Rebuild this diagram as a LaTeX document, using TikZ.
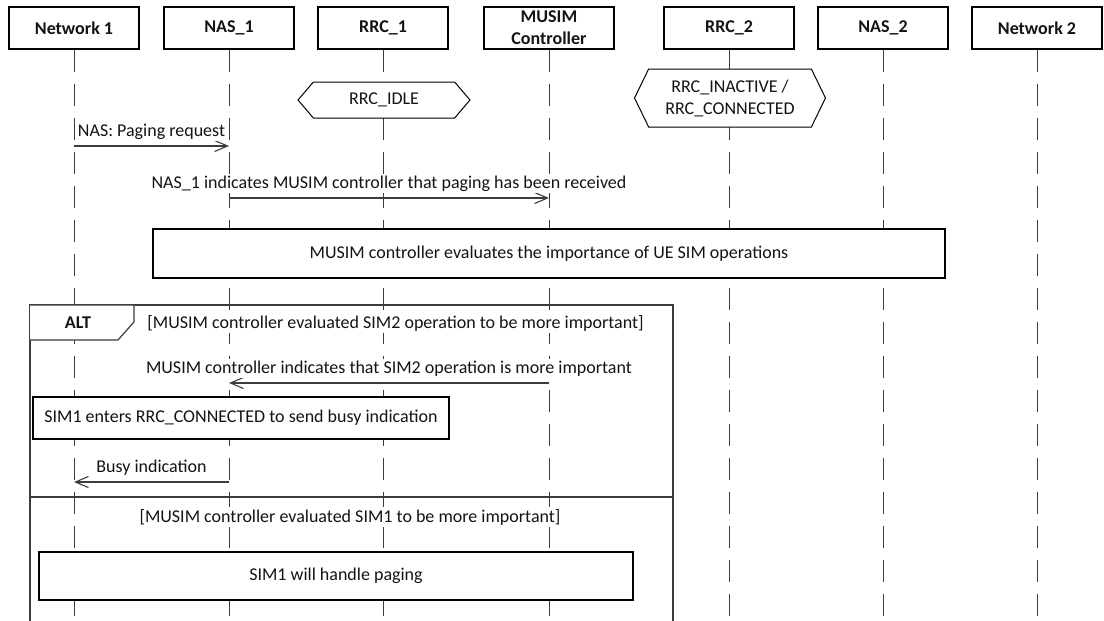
\documentclass[tikz,border=0pt]{standalone}
\usepackage{fontspec}
\setmainfont{Carlito}
\usetikzlibrary{
  arrows.meta,
  positioning,
  shapes.symbols
}
\definecolor{linegray}{RGB}{60,60,60}
\definecolor{textblack}{RGB}{20,20,20}
\newcommand{\diafont}{\fontsize{9}{11}\selectfont}
\tikzset{
  headbox/.style={draw,fill=white,line width=0.6pt,minimum width=65pt,minimum height=21pt,
    inner sep=0pt,font=\diafont\bfseries,align=center,text=textblack},
  lifeline/.style={draw=linegray,line width=0.5pt,dash pattern=on 11pt off 6pt},
  statebox/.style={signal,signal to=east and west,draw,fill=white,line width=0.5pt,
    inner sep=0pt,align=center,text=textblack},
  msg/.style={draw=linegray,line width=0.55pt,-{Straight Barb[length=6.5pt,width=5.5pt]}},
  msglabel/.style={fill=white,inner sep=1pt,above=2pt,text=textblack},
  actbox/.style={draw,fill=white,line width=0.6pt,inner sep=0pt,text=textblack},
  frameline/.style={draw=linegray,line width=0.6pt}
}

\begin{document}
\begin{tikzpicture}[x=0.5pt,y=-0.5pt,font=\diafont]
  \useasboundingbox (0,0) rectangle (1104,621);
  \coordinate (bot) at (0,621);
  % lifeline heads
  \node[headbox] (net1) at (74,28) {Network 1};
  \node[headbox] (nas1) at (229,28) {NAS\_1};
  \node[headbox] (rrc1) at (383,28) {RRC\_1};
  \node[headbox] (musim) at (549,28) {MUSIM\\Controller};
  \node[headbox] (rrc2) at (729,28) {RRC\_2};
  \node[headbox] (nas2) at (883,28) {NAS\_2};
  \node[headbox] (net2) at (1037,28) {Network 2};
  \foreach \n in {net1,nas1,rrc1,musim,rrc2,nas2,net2}
    \draw[lifeline] (\n.south) -- (\n.south |- bot);
  % states
  \node[statebox,minimum width=86pt,minimum height=18pt,signal pointer angle=99] (idle) at (384,100) {RRC\_IDLE};
  \node[statebox,minimum width=95.5pt,minimum height=29pt,signal pointer angle=128] (inact) at (730,98) {RRC\_INACTIVE /\\RRC\_CONNECTED};
  % paging
  \draw[msg] (net1 |- 0,146) -- node[msglabel] (m1) {NAS: Paging request} (nas1 |- 0,146);
  \draw[msg] (nas1 |- 0,198) -- node[msglabel] (m2) {NAS\_1 indicates MUSIM controller that paging has been received} (musim |- 0,198);
  \node[actbox,minimum width=396pt,minimum height=24.5pt] (eval) at (549,253.5) {MUSIM controller evaluates the importance of UE SIM operations};
  % alt fragment
  \draw[frameline] (30,621) |- (673,305) -- (673,621);
  \draw[frameline,fill=white] (30,305) -- (134,305) -- (134,322) -- (118,340) -- (30,340);
  \node[font=\diafont\bfseries,text=textblack] (alt) at (78,323) {ALT};
  \node[anchor=west,fill=white,inner sep=1pt,text=textblack] (g1) at (145,323) {[MUSIM controller evaluated SIM2 operation to be more important]};
  \draw[msg] (musim |- 0,383) -- node[msglabel] (m3) {MUSIM controller indicates that SIM2 operation is more important} (nas1 |- 0,383);
  \node[actbox,minimum width=208pt,minimum height=21pt] (busy) at (241,418) {SIM1 enters RRC\_CONNECTED to send busy indication};
  \draw[msg] (nas1 |- 0,482) -- node[msglabel] (m4) {Busy indication} (net1 |- 0,482);
  \draw[frameline] (30,497) -- (673,497);
  \node[fill=white,inner sep=1pt,text=textblack] (g2) at (350,517) {[MUSIM controller evaluated SIM1 to be more important]};
  \node[actbox,minimum width=297pt,minimum height=24pt] (handle) at (336,576) {SIM1 will handle paging};
\end{tikzpicture}
\end{document}
